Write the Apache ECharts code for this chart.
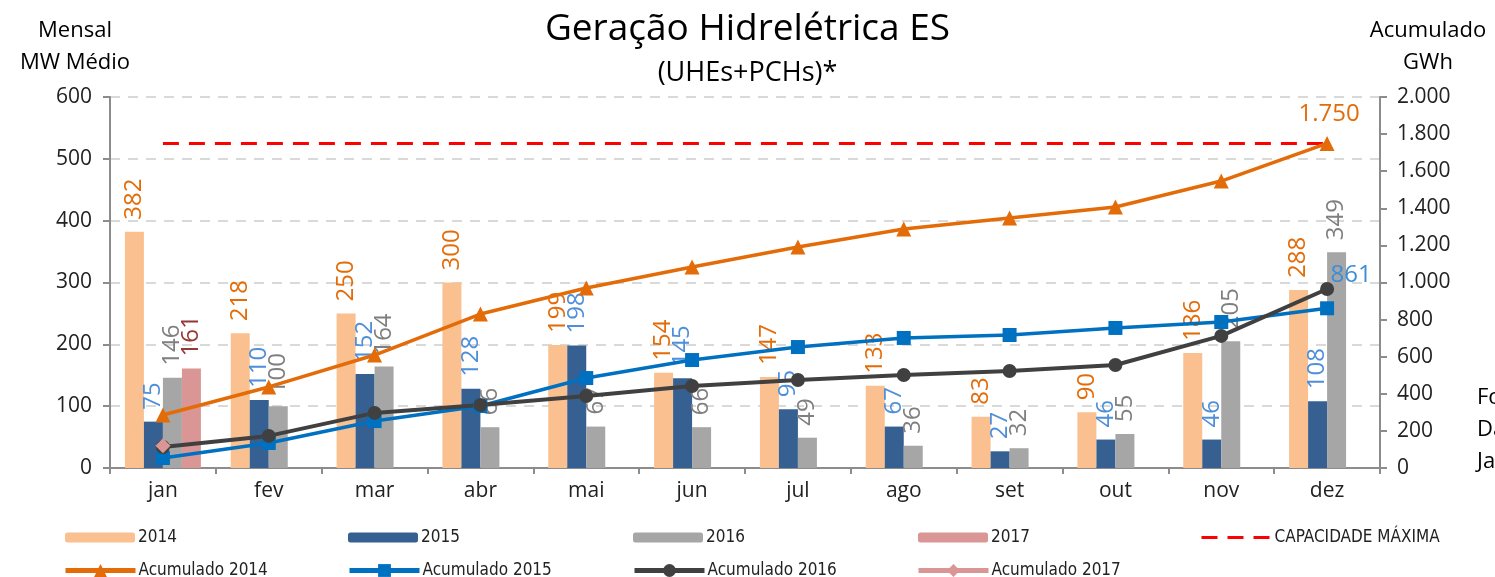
<!DOCTYPE html>
<html>
<head>
<meta charset="utf-8">
<script src="https://cdn.jsdelivr.net/npm/echarts@6/dist/echarts.min.js"></script>
<style>
html,body{margin:0;padding:0;background:#fff;}
#chart{width:1495px;height:577px;}
</style>
</head>
<body>
<div id="chart"></div>
<script>
// ---- data ----
var categories = ['jan','fev','mar','abr','mai','jun','jul','ago','set','out','nov','dez'];
var mensal2014 = [382,218,250,300,199,154,147,133,83,90,186,288];
var mensal2015 = [75,110,152,128,198,145,95,67,27,46,46,108];
var mensal2016 = [146,100,164,66,67,66,49,36,32,55,205,349];
var mensal2017 = [161];
var acum2014 = [286,437,609,830,970,1084,1191,1288,1348,1407,1547,1750];
var acum2015 = [54,135,253,334,485,582,652,701,717,755,787,861];
var acum2016 = [113,173,297,340,388,442,474,501,523,555,712,965];
var acum2017 = [120];
var capacidade = [1750,1750,1750,1750,1750,1750,1750,1750,1750,1750,1750,1750];
var leftTicks = [0,100,200,300,400,500,600];
var rightTicks = [0,200,400,600,800,1000,1200,1400,1600,1800,2000];

var FONT = '"Open Sans", "Liberation Sans", sans-serif';
var NARROW = '"Liberation Sans Narrow", "DejaVu Sans Condensed", "Liberation Sans", sans-serif';

function fmtPt(v){ return String(v).replace(/\B(?=(\d{3})+(?!\d))/g, '.'); }

function barLabel(color){
  return {show:true, position:'top', rotate:90, align:'left', verticalAlign:'middle',
    distance:12, color:color, fontSize:24, fontFamily:FONT,
    formatter:function(p){ return p.value == null || p.value === '-' ? '' : p.value; }};
}
function pad(arr){ var r=[]; for (var i=0;i<categories.length;i++){ r.push(i<arr.length?arr[i]:'-'); } return r; }

var acc14data = acum2014.map(function(v,i){
  if (i===acum2014.length-1) return {value:v, label:{show:true, position:'top', distance:14, offset:[2,4],
    color:'#E36C09', fontSize:24, fontFamily:FONT, formatter:function(p){return fmtPt(p.value);}}};
  return v;
});
var acc15data = acum2015.map(function(v,i){
  if (i===acum2015.length-1) return {value:v, label:{show:true, position:'top', distance:12, offset:[24,-2],
    color:'#3C8DD6', fontSize:24, fontFamily:FONT, formatter:function(p){return p.value;}}};
  return v;
});

var legendDefs = [
  {name:'2014', left:65, top:529, h:10},
  {name:'2015', left:348, top:529, h:10},
  {name:'2016', left:633, top:529, h:10},
  {name:'2017', left:918, top:529, h:10},
  {name:'CAPACIDADE MÁXIMA', left:1200, top:529, h:10, noSym:true},
  {name:'Acumulado 2014', left:63, top:562, h:16},
  {name:'Acumulado 2015', left:347, top:562, h:16},
  {name:'Acumulado 2016', left:632, top:562, h:16},
  {name:'Acumulado 2017', left:916, top:562, h:16}
];
var legends = legendDefs.map(function(d){
  var l = {data:[d.name], left:d.left, top:d.top, itemWidth:70, itemHeight:d.h, itemGap:0,
    padding:0, selectedMode:false,
    textStyle:{fontSize:17, fontFamily:NARROW, color:'#222', padding:[0,0,0,-2]}};
  if (d.h === 16) l.lineStyle = {width:5};
  if (d.noSym) { l.itemStyle = {opacity:0}; l.lineStyle = {width:3}; }
  return l;
});

var chart = echarts.init(document.getElementById('chart'), null, {renderer:'canvas'});
chart.setOption({
  animation:false,
  backgroundColor:'#fff',
  grid:{left:110, right:115, top:97, bottom:109},
  legend:legends,
  graphic:[
    {type:'text', left:'center', top:11, style:{text:'Geração Hidrelétrica ES', font:'37px '+FONT, fill:'#000'}},
    {type:'text', left:'center', top:60, style:{text:'(UHEs+PCHs)*', font:'27px '+FONT, fill:'#000'}},
    {type:'text', x:75, y:15, style:{text:'Mensal\nMW Médio', font:'22px '+FONT, fill:'#000', align:'center', lineHeight:32}},
    {type:'text', x:1428, y:15, style:{text:'Acumulado\nGWh', font:'22px '+FONT, fill:'#000', align:'center', lineHeight:32}},
    {type:'text', x:1477, y:382, style:{text:'Fonte: ONS\nDados até\nJaneiro/2017', font:'22px '+FONT, fill:'#000', align:'left', lineHeight:32}}
  ],
  xAxis:{
    type:'category', data:categories, boundaryGap:true,
    axisLine:{lineStyle:{color:'#8C8C8C', width:2}},
    axisTick:{show:true, length:6, lineStyle:{color:'#8C8C8C', width:2}},
    axisLabel:{fontSize:21, fontFamily:FONT, color:'#222', margin:13}
  },
  yAxis:[
    {type:'value', min:0, max:600, interval:100, position:'left',
     axisLine:{show:true, lineStyle:{color:'#8C8C8C', width:2}},
     axisTick:{show:true, length:7, lineStyle:{color:'#8C8C8C', width:2}},
     axisLabel:{fontSize:21, fontFamily:FONT, color:'#222', margin:18},
     splitLine:{show:true, lineStyle:{color:'#D9D9D9', width:2, type:[10,8]}}},
    {type:'value', min:0, max:2000, interval:200, position:'right',
     axisLine:{show:true, lineStyle:{color:'#8C8C8C', width:2}},
     axisTick:{show:true, length:7, lineStyle:{color:'#8C8C8C', width:2}},
     axisLabel:{fontSize:21, fontFamily:FONT, color:'#222', margin:17, formatter:function(v){return fmtPt(v);}},
     splitLine:{show:false}}
  ],
  series:[
    {name:'2014', type:'bar', data:mensal2014, barWidth:19, barGap:'0%', itemStyle:{color:'#FAC090'}, label:barLabel('#E36C09'), z:2},
    {name:'2015', type:'bar', data:mensal2015, barWidth:19, barGap:'0%', itemStyle:{color:'#376092'}, label:barLabel('#4F8FDA'), z:2},
    {name:'2016', type:'bar', data:mensal2016, barWidth:19, barGap:'0%', itemStyle:{color:'#A6A6A6'}, label:barLabel('#7F7F7F'), z:2},
    {name:'2017', type:'bar', data:pad(mensal2017), barWidth:19, barGap:'0%', itemStyle:{color:'#D99694'}, label:barLabel('#953735'), z:2},
    {name:'CAPACIDADE MÁXIMA', type:'line', yAxisIndex:1, data:capacidade, symbol:'none',
     lineStyle:{color:'#FF0000', width:3, type:[16,10]}, itemStyle:{color:'#FF0000'}, z:3},
    {name:'Acumulado 2014', type:'line', yAxisIndex:1, data:acc14data, symbol:'triangle', symbolSize:15,
     lineStyle:{color:'#E36C09', width:3.5}, itemStyle:{color:'#E36C09'}, z:5},
    {name:'Acumulado 2015', type:'line', yAxisIndex:1, data:acc15data, symbol:'rect', symbolSize:14,
     lineStyle:{color:'#0070C0', width:3.5}, itemStyle:{color:'#0070C0'}, z:5},
    {name:'Acumulado 2016', type:'line', yAxisIndex:1, data:acum2016, symbol:'circle', symbolSize:14,
     lineStyle:{color:'#404040', width:4}, itemStyle:{color:'#404040'}, z:5},
    {name:'Acumulado 2017', type:'line', yAxisIndex:1, data:pad(acum2017), symbol:'diamond', symbolSize:15,
     lineStyle:{color:'#D99694', width:4}, itemStyle:{color:'#D99694'}, z:6}
  ]
});
</script>
</body>
</html>
